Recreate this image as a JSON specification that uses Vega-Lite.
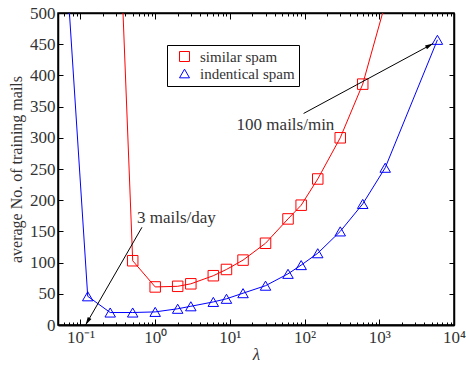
{
  "$schema": "https://vega.github.io/schema/vega-lite/v6.json",
  "width": 396,
  "height": 312,
  "autosize": "none",
  "padding": {"left": 58, "top": 13, "right": 12, "bottom": 42},
  "background": "white",
  "config": {
    "view": {"stroke": "black", "strokeWidth": 1.5},
    "axis": {"grid": false, "zindex": 1, "labelFont": "Liberation Serif", "titleFont": "Liberation Serif", "labelFontSize": 17},
    "legend": {"labelFont": "Liberation Serif", "labelFontSize": 15, "labelColor": "#333"}
  },
  "datasets": {
    "series": [
      {"lambda": 0.0417, "mails": 930, "series": "indentical spam"},
      {"lambda": 0.125, "mails": 46, "series": "indentical spam"},
      {"lambda": 0.25, "mails": 20, "series": "indentical spam"},
      {"lambda": 0.5, "mails": 20, "series": "indentical spam"},
      {"lambda": 1, "mails": 21, "series": "indentical spam"},
      {"lambda": 2, "mails": 26, "series": "indentical spam"},
      {"lambda": 3, "mails": 30, "series": "indentical spam"},
      {"lambda": 6, "mails": 37, "series": "indentical spam"},
      {"lambda": 9, "mails": 42, "series": "indentical spam"},
      {"lambda": 15, "mails": 51, "series": "indentical spam"},
      {"lambda": 30, "mails": 63, "series": "indentical spam"},
      {"lambda": 60, "mails": 82, "series": "indentical spam"},
      {"lambda": 90, "mails": 96, "series": "indentical spam"},
      {"lambda": 150, "mails": 115, "series": "indentical spam"},
      {"lambda": 300, "mails": 150, "series": "indentical spam"},
      {"lambda": 600, "mails": 194, "series": "indentical spam"},
      {"lambda": 1200, "mails": 252, "series": "indentical spam"},
      {"lambda": 6000, "mails": 457, "series": "indentical spam"},
      {"lambda": 0.25, "mails": 1025, "series": "similar spam"},
      {"lambda": 0.5, "mails": 103, "series": "similar spam"},
      {"lambda": 1, "mails": 61, "series": "similar spam"},
      {"lambda": 2, "mails": 62, "series": "similar spam"},
      {"lambda": 3, "mails": 66, "series": "similar spam"},
      {"lambda": 6, "mails": 79, "series": "similar spam"},
      {"lambda": 9, "mails": 89, "series": "similar spam"},
      {"lambda": 15, "mails": 104, "series": "similar spam"},
      {"lambda": 30, "mails": 131, "series": "similar spam"},
      {"lambda": 60, "mails": 170, "series": "similar spam"},
      {"lambda": 90, "mails": 192, "series": "similar spam"},
      {"lambda": 150, "mails": 234, "series": "similar spam"},
      {"lambda": 300, "mails": 300, "series": "similar spam"},
      {"lambda": 600, "mails": 386, "series": "similar spam"},
      {"lambda": 1200, "mails": 515, "series": "similar spam"}
    ],
    "arrows": [
      {"label": "3 mails/day", "x1": 0.665, "y1": 156.6, "x2": 0.117, "y2": 0},
      {"label": "100 mails/min", "x1": 97, "y1": 339, "x2": 5250, "y2": 451}
    ],
    "notes": [
      {"label": "3 mails/day", "x": 0.57, "y": 171.5},
      {"label": "100 mails/min", "x": 12.3, "y": 320.5}
    ]
  },
  "resolve": {"axis": {"x": "independent", "y": "independent"}},
  "layer": [
    {
      "data": {"name": "series"},
      "mark": {"type": "line", "clip": true, "strokeWidth": 1},
      "encoding": {
        "x": {
          "field": "lambda", "type": "quantitative",
          "scale": {"type": "log", "domain": [0.05, 10000], "nice": false},
          "axis": {
            "orient": "bottom", "values": [0.1, 1, 10, 100, 1000, 10000],
            "tickSize": -6, "tickWidth": 1, "tickColor": "black",
            "domainColor": "black", "domainWidth": 2,
            "labelPadding": 10, "labelColor": "#333",
            "title": "λ", "titleColor": "#333", "titleFontWeight": "normal",
            "titleFontStyle": "italic", "titleFontSize": 17, "titlePadding": 1,
            "labelExpr": "datum.value < 0.5 ? '10⁻¹' : datum.value < 5 ? '10⁰' : datum.value < 50 ? '10¹' : datum.value < 500 ? '10²' : datum.value < 5000 ? '10³' : '10⁴'",
            "labelFlush": false
          }
        },
        "y": {
          "field": "mails", "type": "quantitative",
          "scale": {"domain": [0, 500], "nice": false},
          "axis": {
            "orient": "left", "tickCount": 10,
            "tickSize": -5, "tickWidth": 1, "tickColor": "black",
            "domainColor": "black", "domainWidth": 1.5,
            "labelPadding": 8, "labelColor": "#333",
            "title": "average  No.  of  training  mails", "titleColor": "#333",
            "titleFontWeight": "normal", "titleFontSize": 16, "titlePadding": 5
          }
        },
        "color": {
          "field": "series", "type": "nominal",
          "scale": {"domain": ["similar spam", "indentical spam"], "range": ["#ff0000", "#0000ff"]}
        },
        "detail": {"field": "series"}
      }
    },
    {
      "data": {"name": "series"},
      "mark": {"type": "point", "clip": true, "filled": false, "strokeWidth": 1, "opacity": 1},
      "encoding": {
        "x": {
          "field": "lambda", "type": "quantitative",
          "axis": {
            "orient": "bottom",
            "values": [0.06, 0.07, 0.08, 0.09, 0.2, 0.3, 0.4, 0.5, 0.6, 0.7, 0.8, 0.9, 2, 3, 4, 5, 6, 7, 8, 9, 20, 30, 40, 50, 60, 70, 80, 90, 200, 300, 400, 500, 600, 700, 800, 900, 2000, 3000, 4000, 5000, 6000, 7000, 8000, 9000],
            "tickSize": -3, "tickWidth": 1, "tickColor": "black", "labels": false, "title": " ", "domainOpacity": 0
          }
        },
        "y": {
          "field": "mails", "type": "quantitative",
          "axis": {
            "orient": "right", "tickCount": 10,
            "tickSize": -5, "tickWidth": 1, "tickColor": "black",
            "domainColor": "black", "domainWidth": 1.5, "labels": false, "title": " "
          }
        },
        "color": {
          "field": "series", "type": "nominal",
          "legend": {
            "title": null, "orient": "none", "legendX": 109, "legendY": 32,
            "strokeColor": "black", "fillColor": "white", "padding": 4,
            "labelFont": "Liberation Serif", "labelFontSize": 15, "labelColor": "#333",
            "symbolSize": 100, "symbolStrokeWidth": 1, "labelOffset": 8, "symbolOffset": 6,
            "rowPadding": 1
          }
        },
        "shape": {
          "field": "series", "type": "nominal",
          "scale": {"domain": ["similar spam", "indentical spam"], "range": ["square", "triangle-up"]},
          "legend": {
            "title": null, "orient": "none", "legendX": 109, "legendY": 32,
            "strokeColor": "black", "fillColor": "white", "padding": 4,
            "labelFont": "Liberation Serif", "labelFontSize": 15, "labelColor": "#333",
            "symbolSize": 100, "symbolStrokeWidth": 1, "labelOffset": 8, "symbolOffset": 6,
            "rowPadding": 1
          }
        },
        "size": {"value": 110}
      }
    },
    {
      "data": {"name": "arrows"},
      "mark": {"type": "rule", "color": "black", "strokeWidth": 1},
      "encoding": {
        "x": {
          "field": "x1", "type": "quantitative",
          "axis": {"orient": "top", "values": [0.1, 1, 10, 100, 1000, 10000], "tickSize": -6, "tickWidth": 1, "tickColor": "black",
                   "domainColor": "black", "domainWidth": 1.5, "labels": false, "title": " "}
        },
        "x2": {"field": "x2"},
        "y": {"field": "y1", "type": "quantitative", "axis": null},
        "y2": {"field": "y2"}
      }
    },
    {
      "data": {"name": "arrows"},
      "transform": [{"filter": "datum.label === '3 mails/day'"}],
      "mark": {"type": "point", "filled": true, "color": "black", "opacity": 1, "angle": 209.9, "size": 90, "shape": "M0,0L-0.45,1.7L0.45,1.7Z"},
      "encoding": {
        "x": {
          "field": "x2", "type": "quantitative",
          "axis": {
            "orient": "top",
            "values": [0.06, 0.07, 0.08, 0.09, 0.2, 0.3, 0.4, 0.5, 0.6, 0.7, 0.8, 0.9, 2, 3, 4, 5, 6, 7, 8, 9, 20, 30, 40, 50, 60, 70, 80, 90, 200, 300, 400, 500, 600, 700, 800, 900, 2000, 3000, 4000, 5000, 6000, 7000, 8000, 9000],
            "tickSize": -3, "tickWidth": 1, "tickColor": "black", "labels": false, "title": " ", "domainOpacity": 0
          }
        },
        "y": {"field": "y2", "type": "quantitative", "axis": null}
      }
    },
    {
      "data": {"name": "arrows"},
      "transform": [{"filter": "datum.label === '100 mails/min'"}],
      "mark": {"type": "point", "filled": true, "color": "black", "opacity": 1, "angle": 61.7, "size": 90, "shape": "M0,0L-0.45,1.7L0.45,1.7Z"},
      "encoding": {
        "x": {"field": "x2", "type": "quantitative", "axis": null},
        "y": {"field": "y2", "type": "quantitative", "axis": null}
      }
    },
    {
      "data": {"name": "notes"},
      "mark": {"type": "text", "align": "left", "baseline": "middle", "font": "Liberation Serif", "fontSize": 17, "color": "#333"},
      "encoding": {
        "x": {"field": "x", "type": "quantitative", "axis": null},
        "y": {"field": "y", "type": "quantitative", "axis": null},
        "text": {"field": "label"}
      }
    }
  ]
}
